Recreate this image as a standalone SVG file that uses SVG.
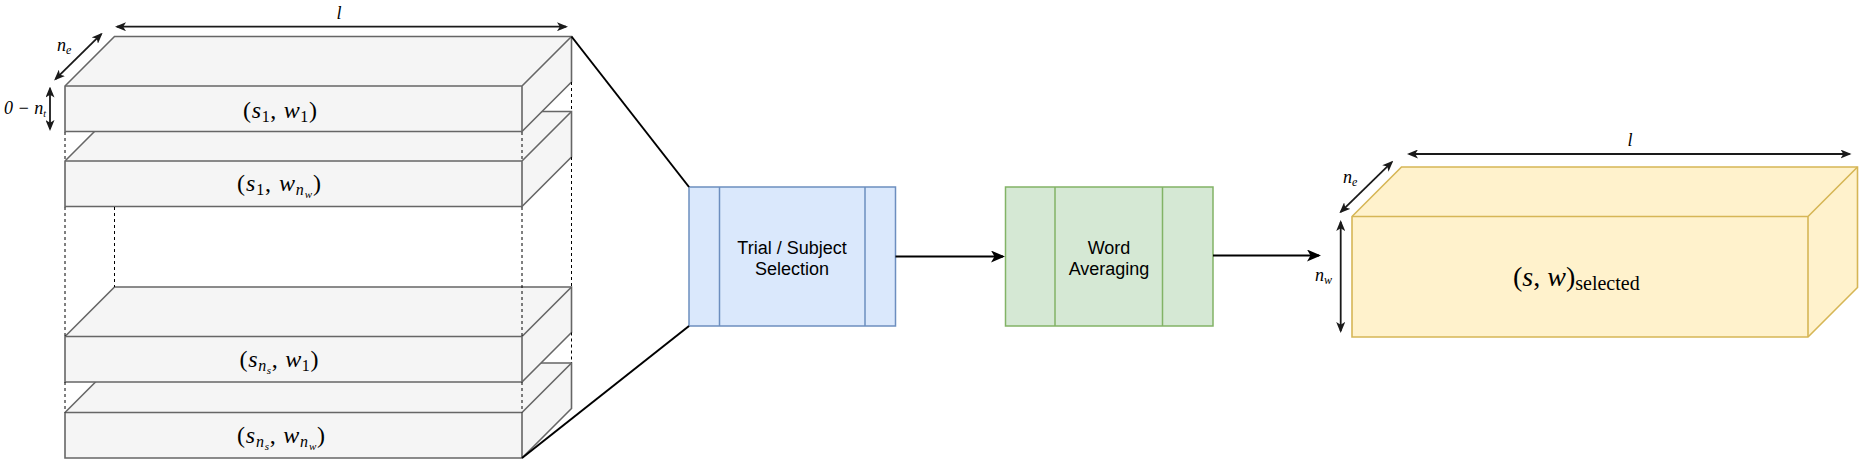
<svg xmlns="http://www.w3.org/2000/svg" width="1869" height="468" viewBox="0 0 1869 468">
<defs>
<style>
.cub{fill:#f5f5f5;stroke:#666666;stroke-width:1.6;stroke-linejoin:miter}
.cubl{fill:none;stroke:#666666;stroke-width:1.6}
.ycub{fill:#fff2cc;stroke:#d6b656;stroke-width:1.6}
.ycubl{fill:none;stroke:#d6b656;stroke-width:1.6}
.dash{fill:none;stroke:#000;stroke-width:1;stroke-dasharray:3 3}
.conn{fill:none;stroke:#000;stroke-width:2}
.dim{fill:none;stroke:#1a1a1a;stroke-width:1.8}
.math{font-family:"Liberation Serif","DejaVu Serif",serif;font-size:24px;fill:#000;text-anchor:middle}
.i{font-style:italic}
.sub{font-size:16px}
.isub{font-size:16px;font-style:italic}
.isub2{font-size:11px;font-style:italic}
.lbl{font-family:"Liberation Serif","DejaVu Serif",serif;font-size:18px;font-style:italic;fill:#000}
.box{font-family:"Liberation Sans",Arial,sans-serif;font-size:18px;fill:#000;text-anchor:middle}
</style>
<marker id="ah" viewBox="0 0 14 12" refX="12" refY="6" markerWidth="14" markerHeight="12" markerUnits="userSpaceOnUse" orient="auto-start-reverse">
<path d="M0,0 L14,6 L0,12 L3.5,6 Z" fill="#000"/>
</marker>
<marker id="dh" viewBox="0 0 11 9" refX="9" refY="4.5" markerWidth="11" markerHeight="9" markerUnits="userSpaceOnUse" orient="auto-start-reverse">
<path d="M0,0 L11,4.5 L0,9 L2.8,4.5 Z" fill="#1a1a1a"/>
</marker>
</defs>
<rect width="1869" height="468" fill="#ffffff"/>

<g id="slab4">
<path class="cub" d="M65,458 L65,412.5 L114.5,363 L571.5,363 L571.5,408.5 L522,458 Z"/>
<path class="cubl" d="M65,412.5 L522,412.5 L571.5,363 M522,412.5 L522,458"/>
<text class="math" x="281" y="443" textLength="88">(<tspan class="i">s</tspan><tspan class="isub" dy="4">n</tspan><tspan class="isub2" dy="3">s</tspan><tspan dy="-7">, </tspan><tspan class="i">w</tspan><tspan class="isub" dy="4">n</tspan><tspan class="isub2" dy="3">w</tspan><tspan dy="-7">)</tspan></text>
</g>
<g id="slab3">
<path class="cub" d="M65,382 L65,336.5 L114.5,287 L571.5,287 L571.5,332.5 L522,382 Z"/>
<path class="cubl" d="M65,336.5 L522,336.5 L571.5,287 M522,336.5 L522,382"/>
<text class="math" x="279" y="367" textLength="79">(<tspan class="i">s</tspan><tspan class="isub" dy="4">n</tspan><tspan class="isub2" dy="3">s</tspan><tspan dy="-7">, </tspan><tspan class="i">w</tspan><tspan class="sub" dy="4">1</tspan><tspan dy="-4">)</tspan></text>
</g>
<g id="slab2">
<path class="cub" d="M65,206.5 L65,161 L114.5,111.5 L571.5,111.5 L571.5,157 L522,206.5 Z"/>
<path class="cubl" d="M65,161 L522,161 L571.5,111.5 M522,161 L522,206.5"/>
<text class="math" x="279" y="191" textLength="84">(<tspan class="i">s</tspan><tspan class="sub" dy="4">1</tspan><tspan dy="-4">, </tspan><tspan class="i">w</tspan><tspan class="isub" dy="4">n</tspan><tspan class="isub2" dy="3">w</tspan><tspan dy="-7">)</tspan></text>
</g>
<g id="slab1">
<path class="cub" d="M65,131.5 L65,86 L114.5,36.5 L571.5,36.5 L571.5,82 L522,131.5 Z"/>
<path class="cubl" d="M65,86 L522,86 L571.5,36.5 M522,86 L522,131.5"/>
<text class="math" x="280" y="117.5" textLength="74">(<tspan class="i">s</tspan><tspan class="sub" dy="4">1</tspan><tspan dy="-4">, </tspan><tspan class="i">w</tspan><tspan class="sub" dy="4">1</tspan><tspan dy="-4">)</tspan></text>
</g>

<g id="guides">
<path class="dash" d="M65,132 L65,161 M522,132 L522,161 M571.5,82 L571.5,111.5"/>
<path class="dash" d="M65,207 L65,336.5 M114.5,207 L114.5,287 M522,207 L522,336.5 M571.5,157 L571.5,287"/>
<path class="dash" d="M65,382 L65,412.5 M522,382 L522,412.5 M571.5,332.5 L571.5,363"/>
</g>

<g id="dims-left">
<path class="dim" d="M117,26.7 L566,26.7" marker-start="url(#dh)" marker-end="url(#dh)"/>
<text class="lbl" x="339" y="18.5" text-anchor="middle">l</text>
<path class="dim" d="M55.5,79.2 L101.2,34.2" marker-start="url(#dh)" marker-end="url(#dh)"/>
<text class="lbl" x="57" y="51">n<tspan font-size="12" dy="3">e</tspan></text>
<path class="dim" d="M50,88.5 L50,129" marker-start="url(#dh)" marker-end="url(#dh)"/>
<text class="lbl" x="4" y="114" font-style="normal" font-size="17">0 − <tspan font-style="italic">n</tspan><tspan font-style="italic" font-size="10" dy="3">t</tspan></text>
</g>

<g id="trial-selection">
<rect x="689" y="187" width="206.5" height="139" fill="#dae8fc" stroke="#6c8ebf" stroke-width="1.5"/>
<path d="M719.5,187 L719.5,326 M865,187 L865,326" stroke="#6c8ebf" stroke-width="1.5" fill="none"/>
<text class="box" x="792" y="254">Trial / Subject</text>
<text class="box" x="792" y="275">Selection</text>
</g>

<g id="word-averaging">
<rect x="1005.5" y="187" width="207.5" height="139" fill="#d5e8d4" stroke="#82b366" stroke-width="1.5"/>
<path d="M1055,187 L1055,326 M1162.5,187 L1162.5,326" stroke="#82b366" stroke-width="1.5" fill="none"/>
<text class="box" x="1109" y="254">Word</text>
<text class="box" x="1109" y="275">Averaging</text>
</g>

<g id="selected">
<path class="ycub" d="M1352,337 L1352,216.5 L1401.5,167 L1857.5,167 L1857.5,287.5 L1808,337 Z"/>
<path class="ycubl" d="M1352,216.5 L1808,216.5 L1857.5,167 M1808,216.5 L1808,337"/>
<text x="1513" y="286" font-family="'Liberation Serif','DejaVu Serif',serif" font-size="28" fill="#000">(<tspan font-style="italic">s</tspan>, <tspan font-style="italic">w</tspan>)<tspan font-size="20" dy="4">selected</tspan></text>
</g>

<g id="dims-right">
<path class="dim" d="M1409,154 L1849.5,154" marker-start="url(#dh)" marker-end="url(#dh)"/>
<text class="lbl" x="1630" y="146" text-anchor="middle">l</text>
<path class="dim" d="M1340.8,211.8 L1391.8,162.2" marker-start="url(#dh)" marker-end="url(#dh)"/>
<text class="lbl" x="1343" y="183">n<tspan font-size="12" dy="3">e</tspan></text>
<path class="dim" d="M1340.7,222 L1340.7,331" marker-start="url(#dh)" marker-end="url(#dh)"/>
<text class="lbl" x="1315" y="281">n<tspan font-size="12" dy="3">w</tspan></text>
</g>

<g id="connectors">
<path class="conn" d="M571.5,36.5 L689,187"/>
<path class="conn" d="M522,458 L689,326"/>
<path class="conn" d="M895.5,256.5 L1003,256.5" marker-end="url(#ah)"/>
<path class="conn" d="M1213,255.5 L1319,255.5" marker-end="url(#ah)"/>
</g>
</svg>
